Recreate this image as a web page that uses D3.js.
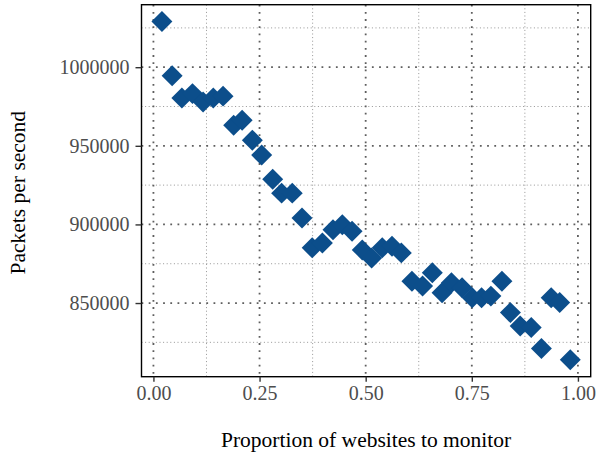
<!DOCTYPE html>
<html>
<head>
<meta charset="utf-8">
<script src="https://cdn.jsdelivr.net/npm/d3@7"></script>
<style>
  body { margin: 0; background: #fff; }
  svg { display: block; }
</style>
</head>
<body>
<script>
const WIDTH = 602;
const HEIGHT = 452;
const MARGIN = { top: 4.7, right: 11.3, bottom: 75.3, left: 141.5 };

// proportion of websites monitored
const proportion = [0.020, 0.044, 0.067, 0.092, 0.117, 0.141, 0.164, 0.189, 0.209, 0.233,
    0.255, 0.281, 0.302, 0.327, 0.350, 0.374, 0.398, 0.423, 0.445, 0.468,
    0.492, 0.514, 0.539, 0.562, 0.584, 0.609, 0.634, 0.657, 0.680, 0.702,
    0.727, 0.751, 0.773, 0.795, 0.821, 0.841, 0.864, 0.890, 0.914, 0.937,
    0.957, 0.982];
// packets per second
const packets = [1029000, 994500, 980400, 983200, 977800, 980400, 981600, 963100, 966300, 953600,
    944100, 928700, 919900, 919900, 904100, 885100, 888200, 896600, 899800, 895600,
    883800, 878700, 885100, 886100, 881900, 863900, 860800, 869200, 856600, 862900,
    859700, 853400, 853400, 854400, 863900, 843900, 835400, 834400, 821100, 853400,
    850300, 813900];

const xTicks = [0, 0.25, 0.5, 0.75, 1];
const xMinor = [0.125, 0.375, 0.625, 0.875];
const yTicks = [850000, 900000, 950000, 1000000];
const yMinor = [825000, 875000, 925000, 975000, 1025000];

const data = proportion.map((p, i) => ({ x: p, y: packets[i] }));

function expand(ext) {
    const r = ext[1] - ext[0];
    return [ext[0] - r * 0.05, ext[1] + r * 0.05];
}

const x = d3.scaleLinear()
    .domain(expand(d3.extent(proportion)))
    .range([MARGIN.left, WIDTH - MARGIN.right]);
const y = d3.scaleLinear()
    .domain(expand(d3.extent(packets)))
    .range([HEIGHT - MARGIN.bottom, MARGIN.top]);

const svg = d3.select("body")
    .append("svg")
    .attr("width", WIDTH)
    .attr("height", HEIGHT)
    .style("font-family", "'Liberation Serif', 'Times New Roman', serif");

const grid = svg.append("g");

// minor grid
grid.selectAll(".hminor")
    .data(yMinor)
    .join("line")
    .attr("x1", MARGIN.left).attr("x2", WIDTH - MARGIN.right)
    .attr("y1", d => y(d)).attr("y2", d => y(d))
    .attr("stroke", "#8a8a8a")
    .attr("stroke-width", 0.9)
    .attr("stroke-dasharray", "1 2.6");
grid.selectAll(".vminor")
    .data(xMinor)
    .join("line")
    .attr("y1", MARGIN.top).attr("y2", HEIGHT - MARGIN.bottom)
    .attr("x1", d => x(d)).attr("x2", d => x(d))
    .attr("stroke", "#8a8a8a")
    .attr("stroke-width", 0.9)
    .attr("stroke-dasharray", "1 2.6");

// major grid
grid.selectAll(".hmajor")
    .data(yTicks)
    .enter().append("line")
    .attr("x1", MARGIN.left).attr("x2", WIDTH - MARGIN.right)
    .attr("y1", d => y(d)).attr("y2", d => y(d))
    .attr("stroke", "#5e5e5e")
    .attr("stroke-width", 1.8)
    .attr("stroke-dasharray", "1.8 5.4");
grid.selectAll(".vmajor")
    .data(xTicks)
    .enter().append("line")
    .attr("y1", MARGIN.top).attr("y2", HEIGHT - MARGIN.bottom)
    .attr("x1", d => x(d)).attr("x2", d => x(d))
    .attr("stroke", "#5e5e5e")
    .attr("stroke-width", 1.8)
    .attr("stroke-dasharray", "1.8 5.4");

// points
svg.append("g")
    .selectAll("path")
    .data(data)
    .join("path")
    .attr("d", d3.symbol(d3.symbolSquare, 220))
    .attr("transform", d => `translate(${x(d.x)},${y(d.y)}) rotate(45)`)
    .attr("fill", "#0c4e8b");

// panel border
svg.append("rect")
    .attr("x", MARGIN.left)
    .attr("y", MARGIN.top)
    .attr("width", WIDTH - MARGIN.left - MARGIN.right)
    .attr("height", HEIGHT - MARGIN.top - MARGIN.bottom)
    .attr("fill", "none")
    .attr("stroke", "#000")
    .attr("stroke-width", 1.4);

// axes
const xAxis = svg.append("g")
    .attr("transform", `translate(0,${HEIGHT - MARGIN.bottom})`)
    .call(d3.axisBottom(x).tickValues(xTicks).tickFormat(d3.format(".2f")).tickSize(5).tickPadding(4));
const yAxis = svg.append("g")
    .attr("transform", `translate(${MARGIN.left},0)`)
    .call(d3.axisLeft(y).tickValues(yTicks).tickFormat(d3.format("d")).tickSize(6).tickPadding(6));

[xAxis, yAxis].forEach(a => {
    a.select(".domain").remove();
    a.selectAll(".tick line").attr("stroke", "#333").attr("stroke-width", 1.4);
    a.selectAll(".tick text")
        .attr("fill", "#4d4d4d")
        .style("font-family", "'Liberation Serif', 'Times New Roman', serif")
        .style("font-size", "20px");
});

// titles
svg.append("text")
    .attr("x", (MARGIN.left + WIDTH - MARGIN.right) / 2)
    .attr("y", 447)
    .attr("text-anchor", "middle")
    .style("font-size", "21.5px")
    .attr("fill", "#000")
    .text("Proportion of websites to monitor");

svg.append("text")
    .attr("transform", `translate(25,${(MARGIN.top + HEIGHT - MARGIN.bottom) / 2 + 2}) rotate(-90)`)
    .attr("text-anchor", "middle")
    .style("font-size", "21.5px")
    .attr("fill", "#000")
    .text("Packets per second");
</script>
</body>
</html>
